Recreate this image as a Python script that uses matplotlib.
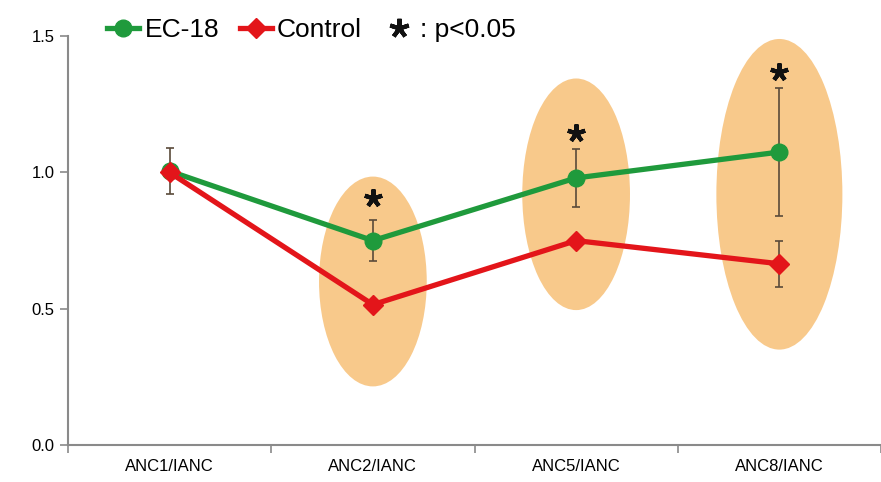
import matplotlib
matplotlib.use("Agg")
import matplotlib.pyplot as plt
from matplotlib.patches import Ellipse
from matplotlib.lines import Line2D

categories = ["ANC1/IANC", "ANC2/IANC", "ANC5/IANC", "ANC8/IANC"]
ec18 = [1.005, 0.75, 0.98, 1.075]
ec18_err = [0.085, 0.075, 0.105, 0.235]
control = [1.0, 0.515, 0.75, 0.665]
control_err = [0.0, 0.0, 0.0, 0.085]
star_x = [1, 2, 3]
star_y = [0.905, 1.145, 1.37]
ell_x = [1, 2, 3]
ell_center = [0.60, 0.92, 0.92]
ell_height = [0.77, 0.85, 1.14]
ell_width = [0.53, 0.53, 0.62]
yticks = [0.0, 0.5, 1.0, 1.5]

plt.rcParams['font.family'] = ['Liberation Sans', 'DejaVu Sans']

fig = plt.figure(figsize=(8.81, 4.82), dpi=100)
ax = fig.add_axes([0.0772, 0.0768, 0.9228, 0.848])

GREEN = "#1f9a3c"
RED = "#e3151a"
ORANGE = "#f8c98b"
AX = "#8a8a8a"
STAR = (5, 2, 0)

x = list(range(len(categories)))

for xi, c, h, w in zip(ell_x, ell_center, ell_height, ell_width):
    ax.add_patch(Ellipse((xi, c), w, h, facecolor=ORANGE, edgecolor="none", zorder=1))

ax.errorbar(x, control, yerr=control_err, fmt="none", ecolor="#5a4a3a",
            elinewidth=1.2, capsize=3, capthick=1.2, zorder=2)
ax.errorbar(x, ec18, yerr=ec18_err, fmt="none", ecolor="#5a4a3a",
            elinewidth=1.2, capsize=3, capthick=1.2, zorder=2)

ax.plot(x, ec18, color=GREEN, lw=3.8, marker="o", ms=12, zorder=3)
ax.plot(x, control, color=RED, lw=3.8, marker="D", ms=10, zorder=4)

ax.plot(star_x, star_y, lw=0, marker=STAR, ms=13, mew=3, color="#111111", zorder=5)

ax.set_xlim(-0.5, 3.5)
ax.set_ylim(0, 1.5)
ax.set_yticks(yticks)
ax.set_yticklabels([f"{v:.1f}" for v in yticks], fontsize=12)
ax.set_xticks([-0.5, 0.5, 1.5, 2.5, 3.5])
ax.set_xticklabels([])
ax.set_xticks(x, minor=True)
ax.set_xticklabels(categories, minor=True, fontsize=12)
ax.tick_params(axis="x", which="minor", length=0, pad=10)
ax.tick_params(axis="x", which="major", length=6, color=AX, width=1.2)
ax.tick_params(axis="y", length=6, color=AX, width=1.2)

for s in ["top", "right"]:
    ax.spines[s].set_visible(False)
for s in ["left", "bottom"]:
    ax.spines[s].set_color(AX)
    ax.spines[s].set_linewidth(1.5)

handles = [
    Line2D([0], [0], color=GREEN, lw=3.8, marker="o", ms=12),
    Line2D([0], [0], color=RED, lw=3.8, marker="D", ms=10),
    Line2D([0], [0], color="#111111", lw=0, marker=STAR, ms=14, mew=3),
]
leg = fig.legend(handles, ["EC-18", "Control", ": p<0.05"], loc="upper left",
                 bbox_to_anchor=(0.095, 1.012), ncol=3, frameon=False, fontsize=19,
                 handlelength=1.2, handletextpad=0.2, columnspacing=0.8)

fig.savefig("out.png", dpi=100)
